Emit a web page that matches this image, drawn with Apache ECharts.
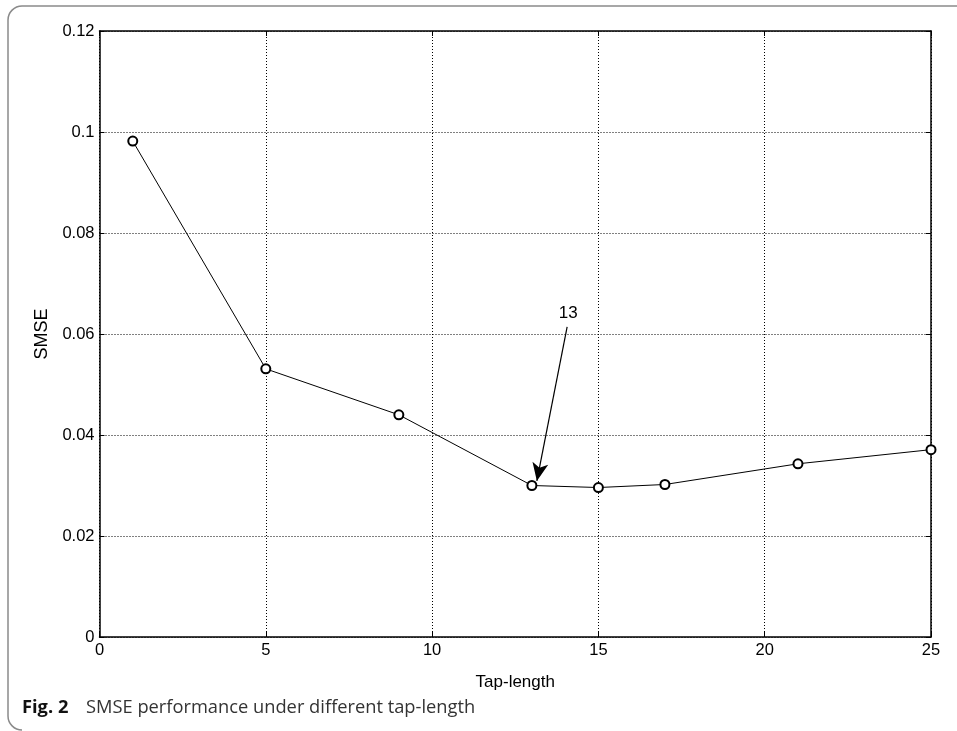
<!DOCTYPE html>
<html>
<head>
<meta charset="utf-8">
<script src="https://cdn.jsdelivr.net/npm/echarts@6/dist/echarts.min.js"></script>
<style>
html,body{margin:0;padding:0;background:#fff;}
#chart{width:957px;height:731px;}
</style>
</head>
<body>
<div id="chart"></div>
<script>
// ---- data ----
const tapLengths = [1, 5, 9, 13, 15, 17, 21, 25];
const smseValues = [0.0982, 0.0531, 0.0440, 0.0300, 0.0296, 0.0302, 0.0343, 0.0371];
const xTicks = [0, 5, 10, 15, 20, 25];
const yTicks = [0, 0.02, 0.04, 0.06, 0.08, 0.1, 0.12];
const annotationText = '13';
const arrowFrom = [14.06, 0.0614];
const arrowTo = [13.15, 0.0309];
const annotationPos = [14.09, 0.0640];
const captionBold = 'Fig. 2';
const captionText = 'SMSE performance under different tap-length';

const chart = echarts.init(document.getElementById('chart'), null, {renderer: 'canvas'});
const FONT = 'Liberation Sans, Arial, sans-serif';
const gridStyle = {show: true, lineStyle: {color: '#000', type: [1, 2], width: 1}};

const seriesData = tapLengths.map((x, i) => [x, smseValues[i]]);
const frameStyle = {fill: 'none', stroke: '#8a8a8a', lineWidth: 1.5};

const option = {
  backgroundColor: '#fff',
  animation: false,
  grid: {left: 99.5, right: 26, top: 31, bottom: 94, containLabel: false},
  xAxis: [{
    type: 'value', min: xTicks[0], max: xTicks[xTicks.length - 1], interval: 5,
    position: 'bottom',
    name: 'Tap-length', nameLocation: 'middle', nameGap: 37,
    nameTextStyle: {color: '#000', fontSize: 17, fontFamily: FONT},
    axisLine: {show: true, onZero: false, lineStyle: {color: '#000', width: 1.5}},
    axisTick: {show: true, inside: true, length: 5, lineStyle: {color: '#000', width: 1}},
    axisLabel: {color: '#000', fontSize: 16.5, fontFamily: FONT, margin: 5},
    splitLine: gridStyle
  }, {
    type: 'value', min: xTicks[0], max: xTicks[xTicks.length - 1], interval: 5,
    position: 'top',
    axisLine: {show: true, onZero: false, lineStyle: {color: '#000', width: 1.5}},
    axisTick: {show: true, inside: true, length: 5, lineStyle: {color: '#000', width: 1}},
    axisLabel: {show: false},
    splitLine: {show: false}
  }],
  yAxis: [{
    type: 'value', min: yTicks[0], max: yTicks[yTicks.length - 1], interval: 0.02,
    position: 'left',
    name: 'SMSE', nameLocation: 'middle', nameGap: 47,
    nameTextStyle: {color: '#000', fontSize: 18, fontFamily: FONT},
    axisLine: {show: true, onZero: false, lineStyle: {color: '#000', width: 1.5}},
    axisTick: {show: true, inside: true, length: 5, lineStyle: {color: '#000', width: 1}},
    axisLabel: {color: '#000', fontSize: 16.5, fontFamily: FONT, margin: 5,
      formatter: v => String(Math.round(v * 100) / 100)},
    splitLine: gridStyle
  }, {
    type: 'value', min: yTicks[0], max: yTicks[yTicks.length - 1], interval: 0.02,
    position: 'right',
    axisLine: {show: true, onZero: false, lineStyle: {color: '#000', width: 1.5}},
    axisTick: {show: true, inside: true, length: 5, lineStyle: {color: '#000', width: 1}},
    axisLabel: {show: false},
    splitLine: {show: false}
  }],
  series: [{
    type: 'line',
    xAxisIndex: 0, yAxisIndex: 0,
    data: seriesData,
    symbol: 'emptyCircle', symbolSize: 9,
    showAllSymbol: true,
    lineStyle: {color: '#000', width: 1},
    itemStyle: {color: '#000', borderColor: '#000', borderWidth: 0.7},
    markLine: {
      silent: true,
      symbol: ['none', 'arrow'],
      symbolSize: [12, 18],
      lineStyle: {color: '#000', width: 1.2, type: 'solid'},
      label: {show: false},
      data: [[
        {coord: arrowFrom},
        {coord: arrowTo}
      ]]
    },
    markPoint: {
      silent: true,
      symbol: 'circle', symbolSize: 0,
      label: {show: true, color: '#000', fontSize: 17, fontFamily: FONT, formatter: annotationText},
      data: [{coord: annotationPos}]
    }
  }],
  graphic: [{
    type: 'line', shape: {x1: 22, y1: 6, x2: 957, y2: 6}, style: frameStyle
  }, {
    type: 'line', shape: {x1: 8, y1: 20, x2: 8, y2: 716}, style: frameStyle
  }, {
    type: 'arc', shape: {cx: 22, cy: 20, r: 14, startAngle: Math.PI, endAngle: Math.PI * 1.5, clockwise: true}, style: frameStyle
  }, {
    type: 'arc', shape: {cx: 22, cy: 716, r: 14, startAngle: Math.PI * 0.5, endAngle: Math.PI, clockwise: true}, style: frameStyle
  }, {
    type: 'text', left: 22, top: 699,
    style: {text: captionBold, fill: '#111', font: 'bold 18.3px "Open Sans", sans-serif'}
  }, {
    type: 'text', left: 86, top: 699,
    style: {text: captionText, fill: '#333', font: '18.3px "Open Sans", sans-serif'}
  }]
};
chart.setOption(option);
</script>
</body>
</html>
